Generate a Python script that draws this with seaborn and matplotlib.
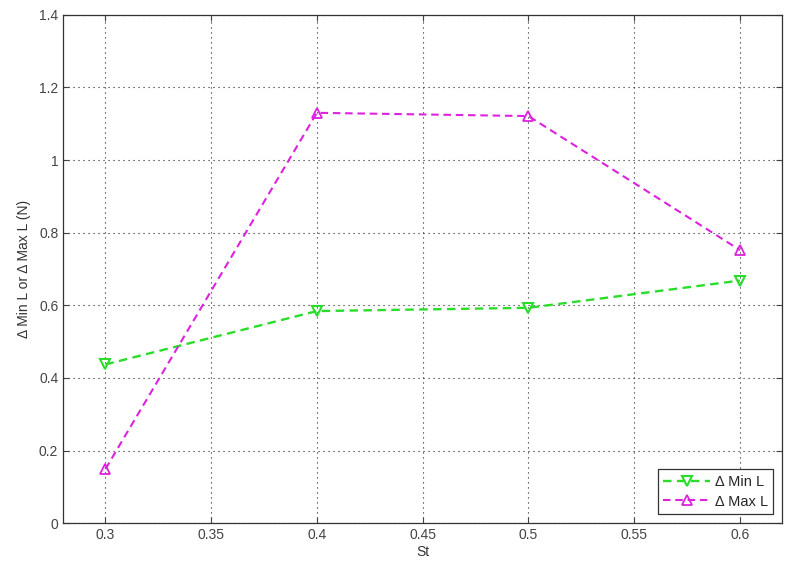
import matplotlib
matplotlib.use("Agg")
import matplotlib.pyplot as plt
import seaborn as sns
import numpy as np

st = [0.3, 0.4, 0.5, 0.6]
min_l = [0.437, 0.584, 0.593, 0.668]
max_l = [0.149, 1.130, 1.121, 0.752]
xticks = [0.3, 0.35, 0.4, 0.45, 0.5, 0.55, 0.6]
yticks = [0, 0.2, 0.4, 0.6, 0.8, 1.0, 1.2, 1.4]

sns.set_theme(style="white")
plt.rcParams['font.family'] = ['Liberation Sans', 'DejaVu Sans']

fig = plt.figure(figsize=(7.99, 5.68), dpi=100)
ax = fig.add_axes([0.079, 0.079, 0.900, 0.895])

green = "#2add2a"
magenta = "#dd22dd"
sns.lineplot(x=st, y=min_l, ax=ax, color=green, marker='v', linestyle='--',
             linewidth=1.7, markersize=7.5, markerfacecolor='none',
             markeredgecolor=green, markeredgewidth=1.5, label='Δ Min L')
sns.lineplot(x=st, y=max_l, ax=ax, color=magenta, marker='^', linestyle='--',
             linewidth=1.5, markersize=7.5, markerfacecolor='none',
             markeredgecolor=magenta, markeredgewidth=1.3, label='Δ Max L')
for ln in ax.get_lines():
    ln.set_dashes((3.6, 2.3))

ax.set_xlim(0.28, 0.62)
ax.set_ylim(0, 1.4)
ax.set_xticks(xticks)
ax.set_xticklabels([f"{t:g}" for t in xticks])
ax.set_yticks(yticks)
ax.set_yticklabels([f"{t:g}" for t in yticks])
ax.grid(True, color='#222222', linestyle=(0, (1, 3.5)), linewidth=0.8)
ax.tick_params(direction='in', length=4, width=0.8, labelsize=10, colors='#444444',
               top=True, right=True, bottom=True, left=True)
for s in ax.spines.values():
    s.set_visible(True)
    s.set_color('#333333')
    s.set_linewidth(0.9)
ax.set_xlabel('St', fontsize=10, labelpad=2, color='#333333')
ax.set_ylabel('Δ Min L or Δ Max L (N)', fontsize=10, labelpad=6, color='#333333')

leg = ax.legend(loc='lower right', fontsize=10.5, frameon=True, fancybox=False,
                edgecolor='#333333', framealpha=1, handlelength=3.2,
                handletextpad=0.3, borderaxespad=0.6, borderpad=0.4,
                labelspacing=0.4)
leg.get_frame().set_linewidth(0.9)
for h in leg.get_lines():
    h.set_dashes((3.6, 2.3))

fig.savefig("out.png", dpi=100)
